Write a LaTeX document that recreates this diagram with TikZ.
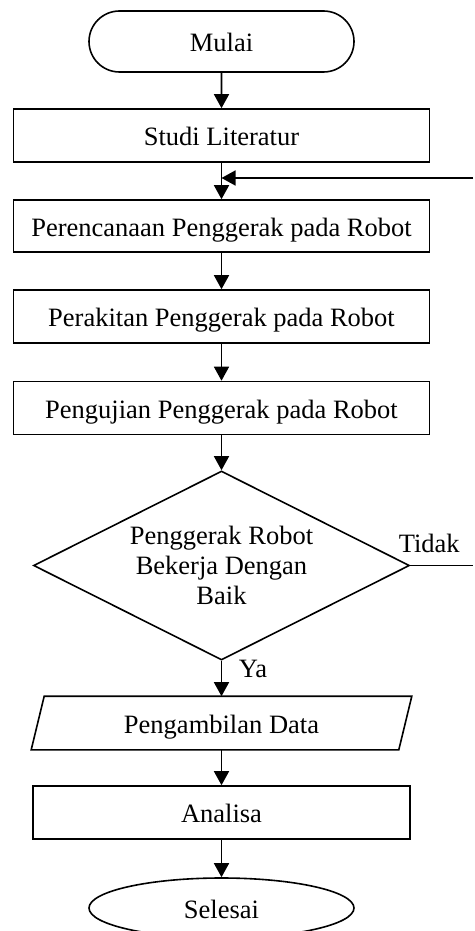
\documentclass[tikz,border=0pt]{standalone}
\usepackage{fontspec}
\setmainfont{Liberation Serif}
\usetikzlibrary{arrows.meta,shapes.geometric,shapes.misc}
\begin{document}
\begin{tikzpicture}[x=1pt,y=-1pt,
  line width=1.6pt,
  every node/.style={font=\fontsize{26.5}{30}\selectfont, inner sep=0pt},
  boxlabel/.style={text height=20.5pt, text depth=0pt},
  process/.style={draw, rectangle, boxlabel, minimum width=416pt, minimum height=53pt},
  terminal/.style={draw, rounded rectangle, boxlabel, minimum width=265pt, minimum height=61pt},
  endterm/.style={draw, ellipse, boxlabel, minimum width=265pt, minimum height=60pt},
  decision/.style={draw, diamond, aspect=2, align=center, minimum width=376pt, minimum height=189pt},
  flow/.style={-{Triangle[length=14pt,width=15pt]}}
]
\useasboundingbox (0,0) rectangle (474,931);

% main column
\node[terminal] (mulai) at (221.5,41.5) {Mulai};
\node[process] (studi) at (221.5,135.5) {Studi Literatur};
\node[process, minimum height=52pt] (plan) at (221.5,226) {Perencanaan Penggerak pada Robot};
\node[process] (rakit) at (221.5,316.5) {Perakitan Penggerak pada Robot};
\node[process] (uji) at (221.5,408) {Pengujian Penggerak pada Robot};
\node[decision] (cek) at (221.5,565.5) {Penggerak Robot\\Bekerja Dengan\\Baik};
\node[rectangle, boxlabel, minimum width=366pt, minimum height=52pt] (data) at (221.5,723) {Pengambilan Data};
\draw ([xshift=6.5pt]data.north west) -- ([xshift=6.5pt]data.north east)
  -- ([xshift=-6.5pt]data.south east) -- ([xshift=-6.5pt]data.south west) -- cycle;
\node[process, minimum width=377pt] (analisa) at (221.5,812.5) {Analisa};
\node[endterm] (selesai) at (221.5,908) {Selesai};

% branch labels
\node[anchor=base west] (tidak) at (398,552) {Tidak};
\node[anchor=base west] (ya) at (238,677) {Ya};

% connectors
\draw[flow] (mulai) -- (studi);
\draw[flow] (studi) -- (plan);
\draw[flow] (plan) -- (rakit);
\draw[flow] (rakit) -- (uji);
\draw[flow] (uji) -- (cek);
\draw[flow] (cek) -- (data);
\draw[flow] (data) -- (analisa);
\draw[flow] (analisa) -- (selesai);

% loop back from the "Tidak" branch
\coordinate (rim) at (473,0);
\coordinate (fb) at (473,178);
\draw (cek.east) -- (cek.east -| rim);
\draw[flow] (fb) -- (fb -| studi.south);
\end{tikzpicture}
\end{document}
